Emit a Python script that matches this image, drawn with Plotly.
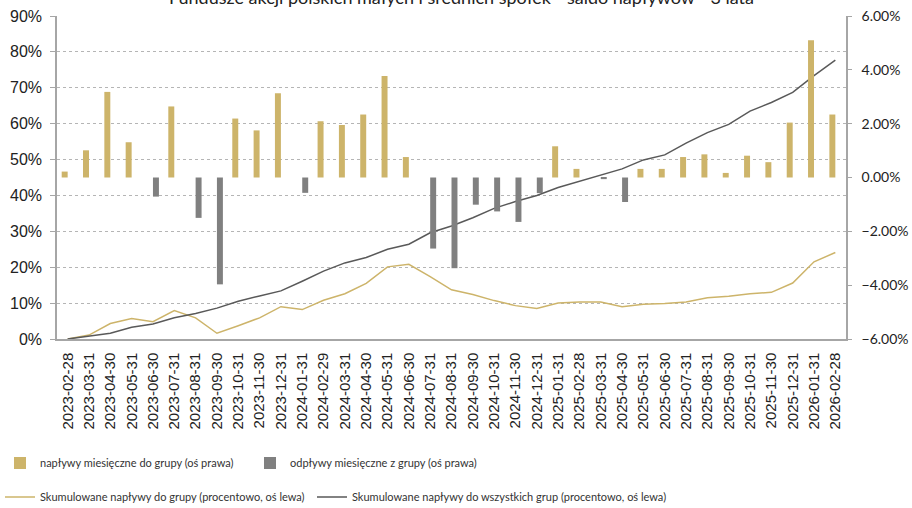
import plotly.graph_objects as go

dates = ["2023-02-28","2023-03-31","2023-04-30","2023-05-31","2023-06-30","2023-07-31","2023-08-31","2023-09-30",
         "2023-10-31","2023-11-30","2023-12-31","2024-01-31","2024-02-29","2024-03-31","2024-04-30","2024-05-31",
         "2024-06-30","2024-07-31","2024-08-31","2024-09-30","2024-10-31","2024-11-30","2024-12-31","2025-01-31",
         "2025-02-28","2025-03-31","2025-04-30","2025-05-31","2025-06-30","2025-07-31","2025-08-31","2025-09-30",
         "2025-10-31","2025-11-30","2025-12-31","2026-01-31","2026-02-28"]

# monthly net flows (% , right axis)
inflows = [0.22, 1.01, 3.18, 1.31, None, 2.64, None, None, 2.19, 1.75, 3.13, None, 2.09, 1.95, 2.34, 3.77,
           0.76, None, None, None, None, None, None, 1.16, 0.32, None, None, 0.32, 0.32, 0.76, 0.86, 0.17,
           0.81, 0.57, 2.04, 5.10, 2.34]
outflows = [None, None, None, None, -0.71, None, -1.50, -3.97, None, None, None, -0.57, None, None, None, None,
            None, -2.64, -3.37, -1.01, -1.26, -1.65, -0.58, None, None, -0.06, -0.91, None, None, None, None, None,
            None, None, None, None, None]

# cumulative flows (% , left axis)
cum_group = [0.0, 1.1, 4.3, 5.7, 4.8, 7.9, 5.9, 1.6, 3.7, 5.9, 9.0, 8.2, 10.8, 12.6, 15.5, 20.1, 20.8, 17.4,
             13.7, 12.4, 10.7, 9.3, 8.5, 10.0, 10.3, 10.3, 9.0, 9.7, 9.9, 10.3, 11.5, 11.9, 12.6, 13.0, 15.6,
             21.5, 24.1]
cum_all = [0.0, 0.7, 1.6, 3.3, 4.2, 5.9, 7.1, 8.6, 10.5, 12.0, 13.4, 16.1, 18.9, 21.2, 22.7, 25.0, 26.4, 29.6,
           31.5, 33.8, 36.4, 38.3, 40.0, 42.2, 43.9, 45.8, 47.4, 49.9, 51.3, 54.6, 57.5, 59.8, 63.5, 65.9, 68.7,
           73.4, 77.7]

title_text = "Fundusze akcji polskich małych i średnich spółek - saldo napływów - 3 lata"

GOLD = "#CDB46A"
GRAY_BAR = "#808080"
GRAY_LINE = "#595959"
LEG_FONT = dict(family="Lato, sans-serif", size=11, color="#333333")

W, H = 912, 508

fig = go.Figure()
fig.add_trace(go.Bar(x=dates, y=inflows, name="napływy miesięczne do grupy (oś prawa)",
                     marker=dict(color=GOLD, line=dict(width=0)), yaxis="y2", legend="legend"))
fig.add_trace(go.Bar(x=dates, y=outflows, name="odpływy miesięczne z grupy (oś prawa)",
                     marker=dict(color=GRAY_BAR, line=dict(width=0)), yaxis="y2", legend="legend2"))
fig.add_trace(go.Scatter(x=dates, y=cum_group, mode="lines",
                         name="Skumulowane napływy do grupy (procentowo, oś lewa)",
                         line=dict(color=GOLD, width=1.5), yaxis="y", legend="legend3"))
fig.add_trace(go.Scatter(x=dates, y=cum_all, mode="lines",
                         name="Skumulowane napływy do wszystkich grup (procentowo, oś lewa)",
                         line=dict(color=GRAY_LINE, width=1.5), yaxis="y", legend="legend4"))


def leg(xpx, ypx):
    return dict(orientation="h", xref="container", yref="container", x=xpx / W, y=1 - ypx / H,
                xanchor="left", yanchor="middle", font=LEG_FONT, bgcolor="rgba(0,0,0,0)")


fig.update_layout(
    width=W, height=H,
    margin=dict(l=57, r=66, t=16, b=169, autoexpand=False),
    paper_bgcolor="white", plot_bgcolor="white",
    barmode="group", bargap=0.44, bargroupgap=0,
    showlegend=True,
    xaxis=dict(type="category", categoryorder="array", categoryarray=dates, automargin=False,
               tickangle=-90, tickfont=dict(family="Liberation Sans, Arial, sans-serif", size=15, color="#222222"),
               showline=True, linecolor="#A6A6A6", linewidth=1.5, ticks="", showgrid=False,
               zeroline=False, ticklabelstandoff=6),
    yaxis=dict(range=[0, 90], dtick=10, ticksuffix="%",
               tickfont=dict(family="Liberation Sans, Arial, sans-serif", size=16, color="#222222"),
               automargin=False, showline=True, linecolor="#A6A6A6", linewidth=1.5,
               ticks="outside", ticklen=5, tickcolor="#A6A6A6", ticklabeloverflow="allow", ticklabelstandoff=5,
               showgrid=True, gridcolor="#B5B5B5", griddash="dot", gridwidth=1, zeroline=False),
    yaxis2=dict(range=[-6, 6], dtick=2, tickformat=".2f", ticksuffix="%",
                tickfont=dict(family="Lato, sans-serif", size=14, color="#222222"), automargin=False,
                overlaying="y", side="right", showline=True, linecolor="#A6A6A6", linewidth=1.5,
                ticks="outside", ticklen=4, tickcolor="#A6A6A6", ticklabeloverflow="allow", ticklabelstandoff=7,
                showgrid=False, zeroline=False),
    legend=leg(0, 463),
    legend2=leg(250, 463),
    legend3=leg(0, 497),
    legend4=leg(312, 497),
    annotations=[dict(text=title_text, xref="paper", yref="paper", x=0.513, y=1 + 19 / 323,
                      xanchor="center", yanchor="middle", showarrow=False,
                      font=dict(family="Lato, sans-serif", size=18, color="#222222"))],
)

fig.write_html("out.html", config={"displayModeBar": False},
               post_script="document.body.style.margin='0';")
